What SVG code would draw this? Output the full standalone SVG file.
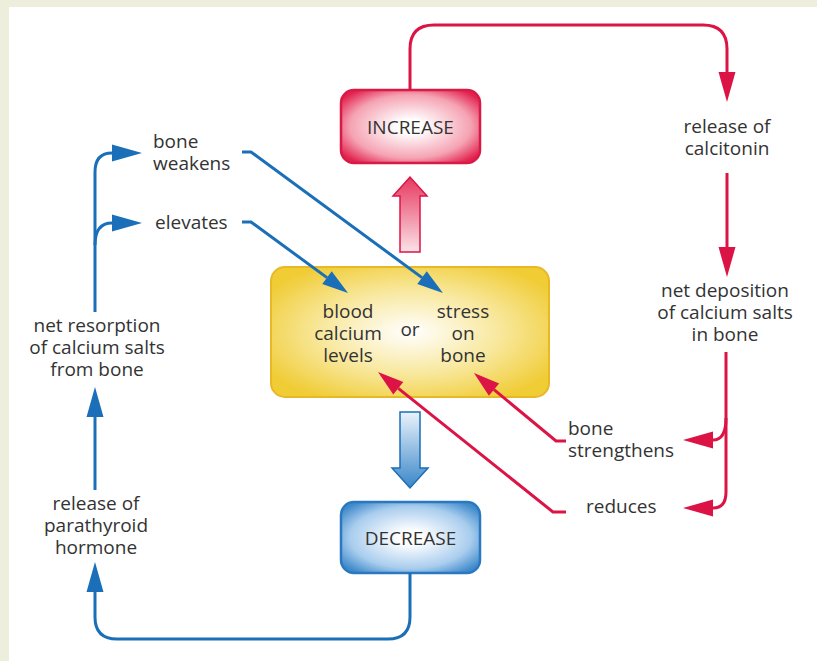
<svg xmlns="http://www.w3.org/2000/svg" width="817" height="661" viewBox="0 0 817 661">
  <defs>
    <style>
      text { font-family: "Open Sans", "Noto Sans", "Liberation Sans", sans-serif; font-size: 19px; fill: #333333; }
      .c { text-anchor: middle; }
      .red { fill: none; stroke: #dc1445; stroke-width: 3; }
      .blue { fill: none; stroke: #1a6fb8; stroke-width: 3; }
    </style>
    <radialGradient id="gInc" cx="0.5" cy="0.5" r="0.62">
      <stop offset="0.15" stop-color="#ffffff"/>
      <stop offset="0.7" stop-color="#f5a3b3"/>
      <stop offset="1" stop-color="#e2234f"/>
    </radialGradient>
    <radialGradient id="gDec" cx="0.5" cy="0.5" r="0.62">
      <stop offset="0.15" stop-color="#ffffff"/>
      <stop offset="0.7" stop-color="#a9cdee"/>
      <stop offset="1" stop-color="#3f8acb"/>
    </radialGradient>
    <radialGradient id="gMid" cx="0.5" cy="0.5" r="0.6">
      <stop offset="0" stop-color="#ffffff"/>
      <stop offset="0.55" stop-color="#f8e79a"/>
      <stop offset="1" stop-color="#f0cc35"/>
    </radialGradient>
    <linearGradient id="gUp" x1="0" y1="0" x2="0" y2="1">
      <stop offset="0" stop-color="#e6385f"/>
      <stop offset="1" stop-color="#fbe3e8"/>
    </linearGradient>
    <linearGradient id="gDown" x1="0" y1="0" x2="0" y2="1">
      <stop offset="0" stop-color="#eaf3fb"/>
      <stop offset="1" stop-color="#3a86c8"/>
    </linearGradient>
    <marker id="hRed" markerUnits="userSpaceOnUse" markerWidth="40" markerHeight="40" refX="0" refY="0" orient="auto" overflow="visible">
      <path d="M0,-8.5 L30,0 L0,8.5 z" fill="#dc1445"/>
    </marker>
    <marker id="hRedS" markerUnits="userSpaceOnUse" markerWidth="40" markerHeight="40" refX="0" refY="0" orient="auto" overflow="visible">
      <path d="M0,-8 L26,0 L0,8 z" fill="#dc1445"/>
    </marker>
    <marker id="hBlue" markerUnits="userSpaceOnUse" markerWidth="40" markerHeight="40" refX="0" refY="0" orient="auto" overflow="visible">
      <path d="M0,-8.5 L30,0 L0,8.5 z" fill="#1a6fb8"/>
    </marker>
    <marker id="hBlueS" markerUnits="userSpaceOnUse" markerWidth="40" markerHeight="40" refX="0" refY="0" orient="auto" overflow="visible">
      <path d="M0,-8 L26,0 L0,8 z" fill="#1a6fb8"/>
    </marker>
  </defs>

  <!-- page background and panel -->
  <rect x="0" y="0" width="817" height="661" fill="#eeeedd"/>
  <rect x="9" y="7" width="808" height="654" fill="#ffffff"/>

  <!-- nodes -->
  <g id="increase">
    <rect x="341" y="90" width="139" height="73" rx="13" fill="url(#gInc)" stroke="#d81a46" stroke-width="2.5"/>
    <text class="c" x="410.5" y="134">INCREASE</text>
  </g>

  <g id="decrease">
    <rect x="341" y="502" width="139" height="71" rx="13" fill="url(#gDec)" stroke="#2a78c0" stroke-width="2.5"/>
    <text class="c" x="410.5" y="545">DECREASE</text>
  </g>

  <g id="stimulus">
    <rect x="271" y="267" width="278" height="130" rx="14" fill="url(#gMid)" stroke="#e8b826" stroke-width="2"/>
    <text class="c" x="348" y="318">blood</text>
    <text class="c" x="348" y="340">calcium</text>
    <text class="c" x="348" y="362">levels</text>
    <text class="c" x="410" y="336">or</text>
    <text class="c" x="463" y="318">stress</text>
    <text class="c" x="463" y="340">on</text>
    <text class="c" x="463" y="362">bone</text>
  </g>

  <g id="calcitonin">
    <text class="c" x="727" y="133">release of</text>
    <text class="c" x="727" y="155">calcitonin</text>
  </g>

  <g id="deposition">
    <text class="c" x="725" y="297">net deposition</text>
    <text class="c" x="725" y="319">of calcium salts</text>
    <text class="c" x="725" y="341">in bone</text>
  </g>

  <g id="strengthens">
    <text x="568" y="435">bone</text>
    <text x="568" y="457">strengthens</text>
  </g>

  <g id="reduces">
    <text x="586" y="513">reduces</text>
  </g>

  <g id="parathyroid">
    <text class="c" x="96" y="510">release of</text>
    <text class="c" x="96" y="532">parathyroid</text>
    <text class="c" x="96" y="554">hormone</text>
  </g>

  <g id="resorption">
    <text class="c" x="97" y="332">net resorption</text>
    <text class="c" x="97" y="354">of calcium salts</text>
    <text class="c" x="97" y="376">from bone</text>
  </g>

  <g id="weakens">
    <text x="153" y="148">bone</text>
    <text x="153" y="170">weakens</text>
  </g>

  <g id="elevates">
    <text x="155" y="229">elevates</text>
  </g>

  <!-- connectors, drawn over the boxes -->
  <g id="connectors">
    <!-- red (calcitonin) pathway -->
    <path class="red" d="M410,90 V49 Q410,25 434,25 H703 Q727,25 727,49 V72" marker-end="url(#hRed)"/>
    <path class="red" d="M727,173 V247" marker-end="url(#hRed)"/>
    <path class="red" d="M726,352 V492 Q726,508 713,508" marker-end="url(#hRed)"/>
    <path class="red" d="M726,418 Q726,440 713,440" marker-end="url(#hRed)"/>
    <path class="red" d="M566,441 H556 L494,389.6" marker-end="url(#hRedS)"/>
    <path class="red" d="M566,512 H553 L398.3,388.3" marker-end="url(#hRedS)"/>

    <!-- blue (parathyroid) pathway -->
    <path class="blue" d="M410,573 V617 Q410,639 388,639 H117 Q95,639 95,617 V592" marker-end="url(#hBlue)"/>
    <path class="blue" d="M95,490 V417" marker-end="url(#hBlue)"/>
    <path class="blue" d="M95,312 V172 Q95,153 112,153" marker-end="url(#hBlue)"/>
    <path class="blue" d="M95,245 Q95,223 112,223" marker-end="url(#hBlue)"/>
    <path class="blue" d="M242,152 H251 L422,277.6" marker-end="url(#hBlueS)"/>
    <path class="blue" d="M242,222 H251 L327,277.6" marker-end="url(#hBlueS)"/>

    <!-- hollow block arrows -->
    <polygon points="400,252 420,252 420,196 427,196 410,177 393,196 400,196" fill="url(#gUp)" stroke="#dc1445" stroke-width="1.5"/>
    <polygon points="400,412 420,412 420,468 428,468 410,488 392,468 400,468" fill="url(#gDown)" stroke="#1a6fb8" stroke-width="1.5"/>
  </g>
</svg>
